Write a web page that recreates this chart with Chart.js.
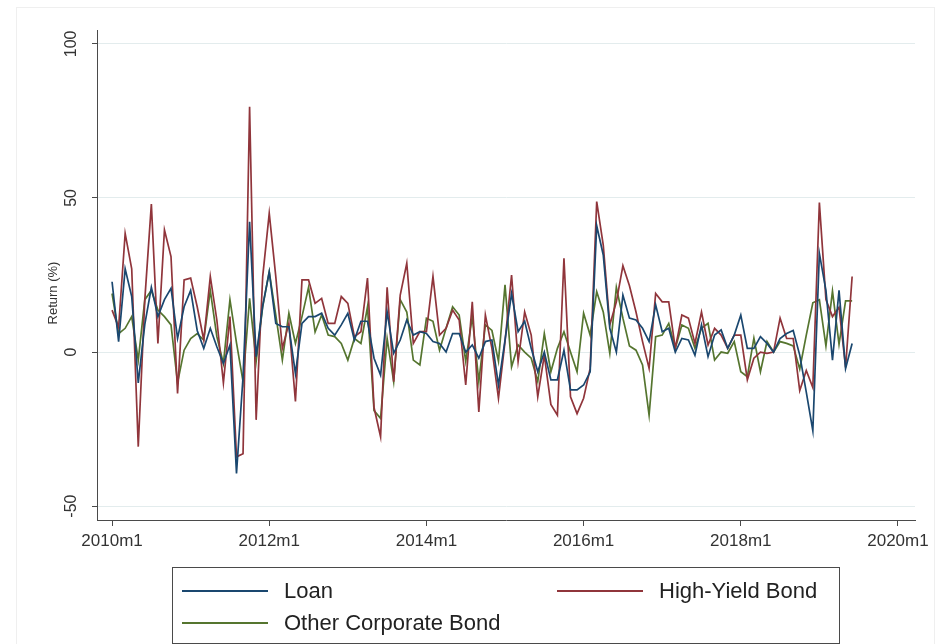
<!DOCTYPE html>
<html>
<head>
<meta charset="utf-8">
<script src="https://cdn.jsdelivr.net/npm/chart.js@4.4.1/dist/chart.umd.min.js"></script>
<style>
  body { margin: 0; background: #fff; }
  #wrap { position: relative; width: 942px; height: 644px; }
</style>
</head>
<body>
<div id="wrap"><canvas id="returnsChart" width="942" height="644"></canvas></div>
<script>
// monthly returns (%), 2010m1 .. 2019m6
const loan = [
  22.8, 3.4, 27, 18, -10, 9, 21, 11.5, 17, 20.7, 4.4, 14.7,
  20, 7, 1.2, 7.7, 1.7, -3.7, 2.3, -39.4, -8, 42.3, -1.5, 15,
  26, 9.3, 8.2, 8.2, -7, 9.3, 11.5, 11.5, 12.6, 7.7, 5.5, 8.8,
  12.6, 3.9, 10, 10, -2, -7.5, 13, -0.4, 3.9, 10.4, 5.5, 6.6,
  6, 3.4, 2.8, 0, 6, 6, 0, 2.3, -2, 3.4, 3.9, -10.7,
  3.9, 19, 6.6, 10, 1.2, -6.4, 0, -9, -9, 0.6, -12.3, -12.3,
  -10.7, -6.4, 41, 31.5, 7.7, 0, 18.5, 11, 10.4, 7.7, 3.4, 15.3,
  6.6, 7.7, 0, 4.4, 3.9, -1, 8.8, -1.5, 5.5, 7.2, 1.2, 5.5,
  12, 1.2, 1.2, 5, 2.8, 0, 4.4, 6, 7, -1, -13, -25.5,
  32, 20, -2.6, 20, -5.3, 2.8
];
const highYield = [
  13.6, 8, 38.5, 27, -30.7, 17, 48, 2.8, 39.6, 31, -13.4, 23.4,
  24, 14.7, 3.9, 24.5, 10.4, -10, 11.5, -34, -33, 79.6, -22, 24.5,
  45, 24.5, 1.2, 9.3, -16, 23.4, 23.4, 15.8, 17.4, 9.3, 9.3, 18,
  15.8, 5, 6.6, 24, -18, -27.5, 21, -9.6, 18.5, 28.8, 2.8, 6.6,
  6.6, 24.5, 5.5, 7.7, 13.6, 10.4, -10.7, 16.3, -19.4, 12, 1.2, -15,
  3.4, 25, -3, 13, 5.5, -14.5, -1, -17, -20.5, 30.4, -14.5, -20,
  -15, -5.3, 48.8, 34.7, 8.8, 16.3, 28, 21.5, 13, 3.4, -5.3, 19,
  16.3, 16.3, 1.2, 12, 11, 2.8, 13, 2.3, 7.7, 5.5, 1.2, 5.5,
  5.5, -9, -2, 0, -0.4, 0, 11, 4.4, 4.4, -12.5, -6, -11.5,
  48.5, 17, 11.5, 14.5, -5, 24.5
];
const otherCorp = [
  19, 6, 7.7, 11.5, -2.6, 17, 20, 13.6, 11.5, 8.8, -10, 0.6,
  4.4, 6, 3.9, 20, 5, -3.7, 17, 3, -9.6, 17.4, -3, 14.7,
  26, 12, -2.6, 12.6, 2.8, 11.5, 21, 6.5, 12, 5.5, 5, 2.8,
  -2.6, 4.4, 2.8, 14.7, -19, -21.5, 4.4, -9.6, 17, 13, -2.6, -4.2,
  11, 10, 0.6, 7.7, 14.7, 12, -3, 11.5, -9.6, 8.8, 7, -3,
  21.8, -4.8, 2.3, 0, -2, -9.6, 6, -6.4, 1.2, 6.6, 0, -6.4,
  12.6, 5.5, 19.6, 13, -0.4, 21, 11, 2, 0.6, -4.2, -20.5, 5,
  5.5, 9.3, 1.2, 8.8, 7.7, 1.2, 7.7, 9.3, -2.6, 0, -0.4, 3.4,
  -6.4, -8, 4.5, -6.4, 3.4, 0, 3.4, 2.8, 2, -5.5, 5.5, 16,
  17, 2, 19.8, 2.5, 16.6, 16.6
];

const xTickMonths = [0, 24, 48, 72, 96, 120];
const xTickLabels = ['2010m1', '2012m1', '2014m1', '2016m1', '2018m1', '2020m1'];
const yTicks = [-50, 0, 50, 100];
const seriesNames = ['Loan', 'High-Yield Bond', 'Other Corporate Bond'];
const seriesColors = ['#1a476f', '#90353b', '#55752f'];

const FONT = "'Liberation Sans', Arial, sans-serif";
const AXIS_GREY = '#4a4a4a';

// month index -> {x, y}
function toPoints(values) {
    return values.map((v, i) => ({ x: i, y: v }));
}

// y tick labels + title, rotated like the stata output
const yLabelsPlugin = {
    id: 'yLabels',
    afterDraw(chart) {
        const ctx = chart.ctx;
        const y = chart.scales.y;
        ctx.save();
        ctx.fillStyle = '#333';
        ctx.textAlign = 'center';
        ctx.textBaseline = 'middle';
        ctx.font = '16px ' + FONT;
        yTicks.forEach(v => {
            ctx.save();
            ctx.translate(72, y.getPixelForValue(v));
            ctx.rotate(-Math.PI / 2);
            ctx.fillText(String(v), 0, 0);
            ctx.restore();
        });
        ctx.font = '13px ' + FONT;
        ctx.translate(53, 293);
        ctx.rotate(-Math.PI / 2);
        ctx.fillText('Return (%)', 0, 0);
        ctx.restore();
    }
};

// boxed two-column legend under the plot
const boxLegendPlugin = {
    id: 'boxLegend',
    afterDraw(chart) {
        const ctx = chart.ctx;
        const items = [
            { x: 182, y: 591 },
            { x: 557, y: 591 },
            { x: 182, y: 623 }
        ];
        ctx.save();
        // faint outer frame
        ctx.strokeStyle = '#efefef';
        ctx.lineWidth = 1;
        ctx.strokeRect(16.5, 7.5, 918, 640);

        ctx.strokeStyle = AXIS_GREY;
        ctx.strokeRect(172.5, 567.5, 667, 76);
        ctx.font = '22px ' + FONT;
        ctx.textBaseline = 'middle';
        ctx.textAlign = 'left';
        items.forEach((it, i) => {
            ctx.strokeStyle = seriesColors[i];
            ctx.lineWidth = 2;
            ctx.beginPath();
            ctx.moveTo(it.x, it.y);
            ctx.lineTo(it.x + 86, it.y);
            ctx.stroke();
            ctx.fillStyle = '#222';
            ctx.fillText(seriesNames[i], it.x + 102, it.y + 1);
        });
        ctx.restore();
    }
};

const datasets = [loan, highYield, otherCorp].map((values, i) => ({
    label: seriesNames[i],
    data: toPoints(values),
    borderColor: seriesColors[i],
    borderWidth: 1.7,
    pointRadius: 0,
    tension: 0,
    fill: false
}));

new Chart(document.getElementById('returnsChart'), {
    type: 'line',
    data: { datasets: datasets },
    options: {
        responsive: false,
        animation: false,
        layout: { padding: { top: 30, right: 27, left: 0, bottom: 0 } },
        plugins: {
            legend: { display: false },
            tooltip: { enabled: false }
        },
        scales: {
            x: {
                type: 'linear',
                min: -2.3,
                max: 122.6,
                afterBuildTicks: scale => {
                    scale.ticks = xTickMonths.map(v => ({ value: v }));
                },
                afterFit: scale => { scale.height = 124; },
                grid: {
                    drawOnChartArea: false,
                    drawTicks: true,
                    tickLength: 6,
                    tickColor: AXIS_GREY
                },
                border: { color: AXIS_GREY, width: 1 },
                ticks: {
                    autoSkip: false,
                    maxRotation: 0,
                    padding: 5,
                    color: '#333',
                    font: { family: FONT, size: 17 },
                    callback: v => xTickLabels[xTickMonths.indexOf(v)]
                }
            },
            y: {
                min: -54.5,
                max: 104.5,
                afterBuildTicks: scale => {
                    scale.ticks = yTicks.map(v => ({ value: v }));
                },
                afterFit: scale => { scale.width = 97; },
                grid: {
                    color: '#e3eced',
                    lineWidth: 1,
                    drawTicks: true,
                    tickLength: 5,
                    tickColor: AXIS_GREY
                },
                border: { color: AXIS_GREY, width: 1 },
                ticks: { display: false }
            }
        }
    },
    plugins: [yLabelsPlugin, boxLegendPlugin]
});
</script>
</body>
</html>
